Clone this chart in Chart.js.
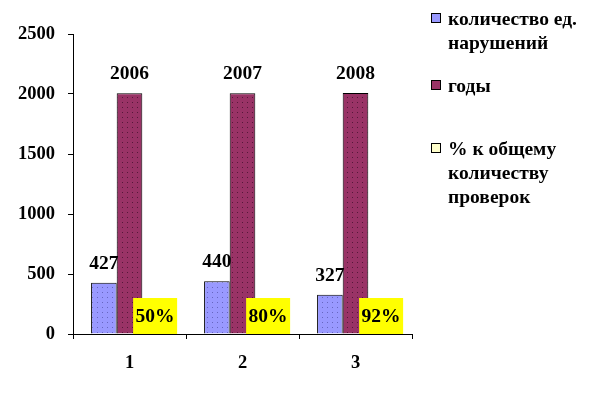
<!DOCTYPE html>
<html>
<head>
<meta charset="utf-8">
<script src="https://cdn.jsdelivr.net/npm/chart.js@4.4.1/dist/chart.umd.min.js"></script>
<style>
  html, body { margin: 0; padding: 0; background: #fff; }
  #wrap { width: 591px; height: 397px; }
</style>
</head>
<body>
<div id="wrap"><canvas id="chart" width="591" height="397"></canvas></div>
<script>
// chart data
const categories = ['1', '2', '3'];
const violations = [427, 440, 327];
const years = [2006, 2007, 2008];
const percents = [50, 80, 92];
const yTicks = [0, 500, 1000, 1500, 2000, 2500];

const seriesNames = [
  ['количество ед.', 'нарушений'],
  ['годы'],
  ['% к общему', 'количеству', 'проверок']
];

const FONT = '"Liberation Serif", "Times New Roman", serif';

// little dotted fill like the old office charts
function dotted(bg, dot) {
  const c = document.createElement('canvas');
  c.width = 5; c.height = 5;
  const g = c.getContext('2d');
  g.fillStyle = bg;
  g.fillRect(0, 0, 5, 5);
  g.fillStyle = dot;
  g.fillRect(2, 2, 1, 1);
  return g.createPattern(c, 'repeat');
}

const blueFill = dotted('#9999FF', 'rgba(60,60,140,0.55)');
const maroonFill = dotted('#993366', 'rgba(30,0,20,0.55)');

// value labels, incl. yellow boxes for the percentages
const labelPlugin = {
  id: 'valueLabels',
  afterDatasetsDraw(chart) {
    const ctx = chart.ctx;
    const yScale = chart.scales.y;
    ctx.save();
    ctx.font = 'bold 19.5px ' + FONT;
    ctx.fillStyle = '#000';
    ctx.textAlign = 'center';
    ctx.textBaseline = 'middle';
    [0, 1].forEach(i => {
      const meta = chart.getDatasetMeta(i);
      meta.data.forEach((bar, j) => {
        const v = chart.data.datasets[i].data[j];
        ctx.fillText(String(v), bar.x, bar.y - 19);
      });
    });
    const meta = chart.getDatasetMeta(2);
    const bottom = yScale.getPixelForValue(0);
    meta.data.forEach((bar, j) => {
      const w = 44, h = 36;
      ctx.fillStyle = '#FFFF00';
      ctx.fillRect(bar.x - w / 2, bottom - h, w, h);
      ctx.fillStyle = '#000';
      ctx.fillText(percents[j] + '%', bar.x, bottom - h / 2 + 1);
    });
    ctx.restore();
  }
};

// legend on the right, multi-line entries
const legendPlugin = {
  id: 'sideLegend',
  afterDraw(chart) {
    const ctx = chart.ctx;
    const swatches = ['#9999FF', '#993366', '#FFFFCC'];
    const boxTops = [13.5, 80.5, 143.5];
    const textTops = [20, 87, 150];
    ctx.save();
    ctx.font = 'bold 19.5px ' + FONT;
    ctx.textAlign = 'left';
    ctx.textBaseline = 'middle';
    seriesNames.forEach((lines, i) => {
      ctx.fillStyle = swatches[i];
      ctx.fillRect(431.5, boxTops[i], 9, 9);
      ctx.strokeStyle = '#000';
      ctx.lineWidth = 1;
      ctx.strokeRect(431.5, boxTops[i], 9, 9);
      ctx.fillStyle = '#000';
      lines.forEach((t, k) => {
        ctx.fillText(t, 448, textTops[i] + k * 24);
      });
    });
    ctx.restore();
  }
};

new Chart(document.getElementById('chart'), {
  type: 'bar',
  data: {
    labels: categories,
    datasets: [
      { label: seriesNames[0].join(' '), data: violations, backgroundColor: blueFill, borderColor: '#000', borderWidth: 1 },
      { label: seriesNames[1].join(' '), data: years, backgroundColor: maroonFill, borderColor: '#000', borderWidth: 1 },
      { label: seriesNames[2].join(' '), data: percents, backgroundColor: '#FFFFCC', borderColor: '#000', borderWidth: 1 }
    ]
  },
  options: {
    responsive: false,
    animation: false,
    layout: { padding: { left: 0, right: 179, top: 34, bottom: 0 } },
    datasets: { bar: { categoryPercentage: 0.68, barPercentage: 1 } },
    plugins: {
      legend: { display: false },
      tooltip: { enabled: false }
    },
    scales: {
      x: {
        grid: { offset: true, drawOnChartArea: false, color: '#000', tickLength: 5 },
        border: { color: '#000', width: 1 },
        ticks: { color: '#000', font: { family: FONT, size: 18.5, weight: 'bold' }, padding: 13 },
        afterFit(scale) { scale.height = 63; }
      },
      y: {
        min: 0,
        max: 2500,
        afterBuildTicks(scale) { scale.ticks = yTicks.map(v => ({ value: v })); },
        grid: { drawOnChartArea: false, color: '#000', tickLength: 5 },
        border: { color: '#000', width: 1 },
        ticks: {
          color: '#000',
          font: { family: FONT, size: 18.5, weight: 'bold' },
          padding: 13,
          callback: v => String(v)
        },
        afterFit(scale) { scale.width = 73; }
      }
    }
  },
  plugins: [labelPlugin, legendPlugin]
});
</script>
</body>
</html>
